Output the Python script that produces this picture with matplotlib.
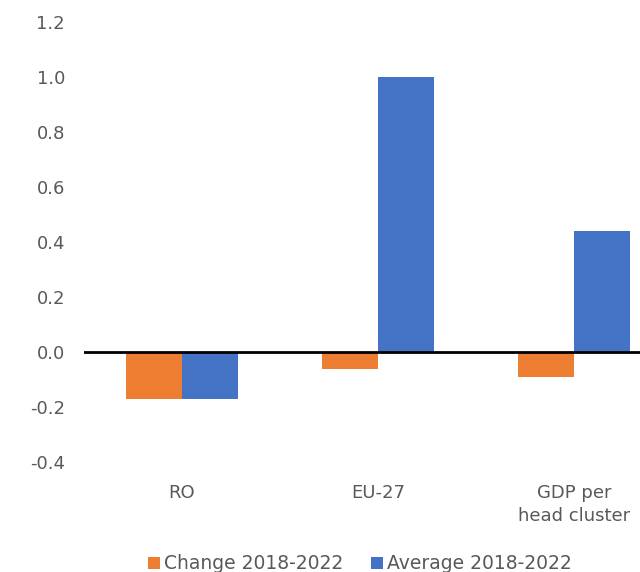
import numpy as np
import matplotlib.pyplot as plt

plt.rcParams['font.family'] = ['DejaVu Sans']

categories = ["RO", "EU-27", "GDP per\nhead cluster"]
change = [-0.17, -0.06, -0.09]
average = [-0.17, 1.00, 0.44]
series_labels = ["Change 2018-2022", "Average 2018-2022"]
yticks = [-0.4, -0.2, 0.0, 0.2, 0.4, 0.6, 0.8, 1.0, 1.2]

orange = "#ED7D31"
blue = "#4472C4"
grey = "#595959"

fig = plt.figure(figsize=(6.4, 5.72), dpi=100)
ax = fig.add_axes([0.131, 0.192, 0.919, 0.77])

x = np.arange(len(categories))
w = 0.286
ax.bar(x - w / 2, change, w, color=orange, label=series_labels[0])
ax.bar(x + w / 2, average, w, color=blue, label=series_labels[1])

ax.axhline(0, color="black", lw=2)
ax.set_xlim(-0.5, 2.5)
ax.set_ylim(-0.4, 1.2)
ax.set_yticks(yticks)
ax.set_yticklabels([f"{v:.1f}" for v in yticks])
ax.set_xticks(x)
ax.set_xticklabels(categories, linespacing=1.3)
ax.tick_params(axis="both", length=0, labelsize=13, colors=grey)
ax.tick_params(axis="x", pad=16)
ax.tick_params(axis="y", pad=13.5)
for s in ax.spines.values():
    s.set_visible(False)

fig.legend(loc="center", bbox_to_anchor=(0.562, 0.014), ncol=2, frameon=False,
           fontsize=13.5, handlelength=0.65, handleheight=0.65, handletextpad=0.2,
           columnspacing=1.5, labelcolor=grey)

fig.savefig("out.png", dpi=100)
